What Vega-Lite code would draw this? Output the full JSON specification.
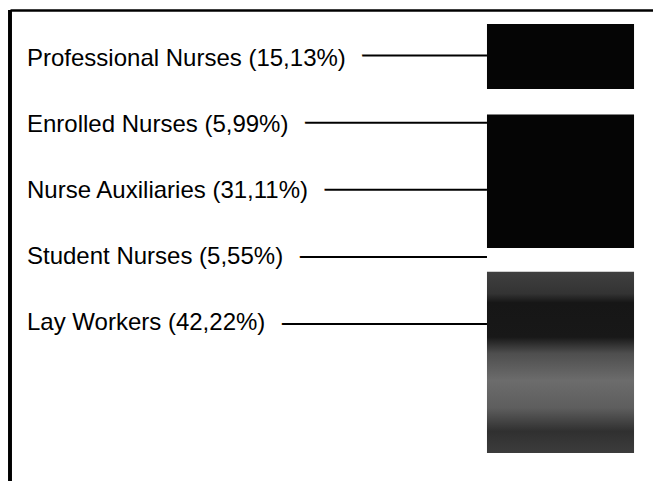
{
  "$schema": "https://vega.github.io/schema/vega-lite/v6.json",
  "width": 643,
  "height": 471,
  "autosize": {"type": "none"},
  "padding": {"left": 10, "top": 10, "right": 0, "bottom": 0},
  "background": "white",
  "config": {"view": {"stroke": null}},
  "data": {
    "values": [
      {"idx": 1, "category": "Professional Nurses", "pct": 15.13, "label": "Professional Nurses (15,13%)"},
      {"idx": 2, "category": "Enrolled Nurses", "pct": 5.99, "label": "Enrolled Nurses (5,99%)"},
      {"idx": 3, "category": "Nurse Auxiliaries", "pct": 31.11, "label": "Nurse Auxiliaries (31,11%)"},
      {"idx": 4, "category": "Student Nurses", "pct": 5.55, "label": "Student Nurses (5,55%)"},
      {"idx": 5, "category": "Lay Workers", "pct": 42.22, "label": "Lay Workers (42,22%)"}
    ]
  },
  "resolve": {"scale": {"y": "independent"}},
  "layer": [
    {
      "transform": [
        {"stack": "pct", "groupby": [], "sort": [{"field": "idx", "order": "ascending"}], "as": ["p0", "p1"]}
      ],
      "mark": {"type": "bar"},
      "encoding": {
        "x": {"datum": 74.18, "type": "quantitative", "scale": {"domain": [0, 100], "nice": false, "zero": false}, "axis": {"orient": "top", "domain": true, "domainColor": "black", "domainWidth": 2.5, "ticks": false, "labels": false, "grid": false, "title": null, "zindex": 1}},
        "x2": {"datum": 97.05},
        "y": {"field": "p0", "type": "quantitative", "scale": {"domain": [-3.263, 106.527], "reverse": true, "nice": false, "zero": false}, "axis": null},
        "y2": {"field": "p1"},
        "fill": {
          "condition": {
            "test": "datum.category === 'Lay Workers'",
            "value": {
              "gradient": "linear", "x1": 0, "y1": 0, "x2": 0, "y2": 1,
              "stops": [
                {"offset": 0, "color": "#404040"},
                {"offset": 0.12, "color": "#333333"},
                {"offset": 0.17, "color": "#161616"},
                {"offset": 0.36, "color": "#181818"},
                {"offset": 0.45, "color": "#4e4e4e"},
                {"offset": 0.6, "color": "#6c6c6c"},
                {"offset": 0.75, "color": "#5e5e5e"},
                {"offset": 0.88, "color": "#303030"},
                {"offset": 1, "color": "#3c3c3c"}
              ]
            }
          },
          "field": "category",
          "type": "nominal",
          "scale": {
            "domain": ["Professional Nurses", "Enrolled Nurses", "Nurse Auxiliaries", "Student Nurses", "Lay Workers"],
            "range": ["#050505", "#ffffff", "#050505", "#ffffff", "#555555"]
          },
          "legend": null
        }
      }
    },
    {
      "mark": {"type": "rule", "color": "black", "strokeWidth": 2},
      "encoding": {
        "x": {"datum": 2.644, "type": "quantitative", "axis": {"orient": "top", "domain": true, "domainColor": "black", "domainWidth": 2.5, "ticks": false, "labels": false, "grid": false, "title": null, "zindex": 1}},
        "x2": {"datum": 74.18},
        "y": {"field": "idx", "type": "quantitative", "scale": {"domain": [0.3204, 7.3398], "reverse": true, "nice": false, "zero": false}, "axis": null}
      }
    },
    {
      "mark": {"type": "text", "align": "left", "baseline": "alphabetic", "font": "Liberation Sans", "fontSize": 24, "fill": "white", "stroke": "white", "strokeWidth": 36, "strokeJoin": "round"},
      "encoding": {
        "x": {"datum": 2.644, "type": "quantitative", "axis": {"orient": "top", "domain": true, "domainColor": "black", "domainWidth": 2.5, "ticks": false, "labels": false, "grid": false, "title": null, "zindex": 1}},
        "y": {"field": "idx", "type": "quantitative", "scale": {"domain": [0.14545, 7.28182], "reverse": true, "nice": false, "zero": false}, "axis": null},
        "text": {"field": "label"}
      }
    },
    {
      "mark": {"type": "rule", "color": "black", "strokeWidth": 3},
      "encoding": {
        "x": {"datum": 0, "type": "quantitative", "axis": {"orient": "top", "domain": true, "domainColor": "black", "domainWidth": 2.5, "ticks": false, "labels": false, "grid": false, "title": null, "zindex": 1}}
      }
    },
    {
      "mark": {"type": "text", "align": "left", "baseline": "alphabetic", "font": "Liberation Sans", "fontSize": 24, "fill": "black"},
      "encoding": {
        "x": {"datum": 2.644, "type": "quantitative", "axis": {"orient": "top", "domain": true, "domainColor": "black", "domainWidth": 2.5, "ticks": false, "labels": false, "grid": false, "title": null, "zindex": 1}},
        "y": {"field": "idx", "type": "quantitative", "scale": {"domain": [0.14545, 7.28182], "reverse": true, "nice": false, "zero": false}, "axis": null},
        "text": {"field": "label"}
      }
    }
  ]
}
